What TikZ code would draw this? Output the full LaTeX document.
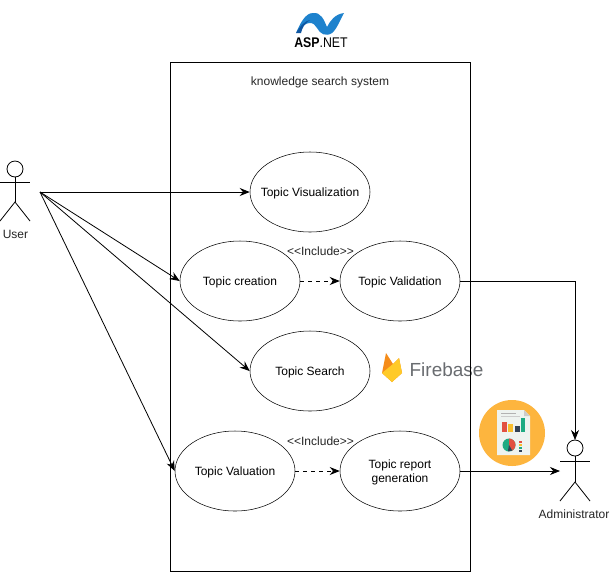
\documentclass[tikz,border=0pt]{standalone}
\usepackage{fontspec}
\setmainfont{Liberation Sans}
\usepackage{tikz}
\usetikzlibrary{arrows.meta,positioning,shapes.geometric}
\definecolor{aspblue}{RGB}{30,130,205}
\definecolor{aspdark}{RGB}{15,85,160}
\definecolor{fbgray}{RGB}{105,108,112}
\definecolor{fbyellow}{RGB}{255,202,40}
\definecolor{fborange}{RGB}{245,140,25}
\definecolor{iconorange}{RGB}{253,181,62}
\definecolor{iconpaper}{RGB}{238,243,240}
\definecolor{iconred}{RGB}{226,80,65}
\definecolor{iconyellow}{RGB}{247,190,45}
\definecolor{icondark}{RGB}{50,65,85}
\definecolor{iconteal}{RGB}{30,170,130}
\tikzset{
  usecase/.style={draw, ellipse, minimum width=90pt, minimum height=60pt, inner sep=-12pt,
    align=center, text depth=0pt, font=\fontsize{9}{10.5}\selectfont},
  label/.style={inner sep=0pt, text=black!85, font=\fontsize{9}{10.5}\selectfont},
  line/.style={-{Stealth[length=7.5pt,width=6pt]}, semithick},
  dashline/.style={line, dashed},
  actor/.style={semithick}
}
\begin{document}
\begin{tikzpicture}[x=0.75pt, y=-0.75pt]
  \useasboundingbox (0,0) rectangle (613,572);
  \fill[white] (0,0) rectangle (613,572);
  % logos
  \fill[aspblue] (296,33) .. controls (300,24) and (305,13) .. (313,13)
    .. controls (321,12) and (324,20) .. (327,27)
    .. controls (330,21) and (335,14) .. (344,13)
    .. controls (340,20) and (337,29) .. (332,33)
    .. controls (326,37) and (320,34) .. (317,28)
    .. controls (314,22) and (307,19) .. (296,33) -- cycle;
  \fill[aspdark] (296,33) .. controls (301,25) and (305,21) .. (310,20)
    .. controls (305,23) and (302,28) .. (301,33) -- cycle;
  \node[inner sep=0pt, xscale=0.88, font=\fontsize{10.5}{12}\selectfont] (aspText) at (321,43) {\textbf{ASP}.NET};
  \fill[fborange] (382,373) -- (386,353) -- (393,364) -- (399,358) -- (402,373) -- (392,382) -- cycle;
  \fill[fbyellow] (382,373) -- (393,364) -- (399,358) -- (402,373) -- (392,382) -- cycle;
  \node[inner sep=0pt, text=fbgray, font=\fontsize{14.2}{16}\selectfont] (firebaseText) at (446.5,369.5) {Firebase};
  \fill[iconorange] (512,433) circle[radius=33];
  \fill[iconpaper] (497,410) -- (524,410) -- (530,416) -- (530,455) -- (497,455) -- cycle;
  \fill[gray!40] (524,410) -- (530,416) -- (524,416) -- cycle;
  \draw[gray!60, line width=0.6pt] (501,413) -- (516,413);
  \draw[gray!40, line width=0.6pt] (501,416) -- (520,416);
  \fill[iconred] (502,422) rectangle (507,432);
  \fill[iconyellow] (508,424) rectangle (513,432);
  \fill[icondark] (515,426) rectangle (520,432);
  \fill[iconteal] (521,418) rectangle (525,432);
  \fill[iconteal] (509,445) circle[radius=6.5];
  \fill[iconred] (509,445) -- (509,438.5) arc[start angle=-90, end angle=60, radius=6.5] -- cycle;
  \fill[icondark] (509,445) -- (512.2,450.6) arc[start angle=60, end angle=100, radius=6.5] -- cycle;
  \foreach \y/\c in {441/iconred,444/iconyellow,447/iconteal,450/icondark}
    \fill[\c] (519,\y) rectangle (522,\y+1.5);
  % system
  \draw[semithick] (170,62) rectangle (470,571);
  \node[label] (systemTitle) at (320,82.5) {knowledge search system};
  \node[usecase] (visualization) at (310,192) {Topic Visualization};
  \node[usecase] (creation) at (240,281) {Topic creation};
  \node[usecase] (validation) at (400,281) {Topic Validation};
  \node[usecase] (search) at (310,371) {Topic Search};
  \node[usecase] (valuation) at (235,471) {Topic Valuation};
  \node[usecase] (report) at (400,471) {Topic report\\generation};
  \node[label] (includeA) at (320.5,251.5) {<{}<Include>{}>};
  \node[label] (includeB) at (320.5,441.5) {<{}<Include>{}>};
  % actors
  \coordinate (userFrom) at (40,192);
  \draw[actor] (15,169) circle[radius=8];
  \draw[actor] (0,182) -- (30,182);
  \draw[actor] (15,177) -- (15,202);
  \draw[actor] (0,221) -- (15,202) -- (30,221);
  \node[label] (userLabel) at (15.5,234.5) {User};
  \coordinate (adminTop) at (575,440);
  \coordinate (adminLeft) at (560,471);
  \draw[actor] (575,448) circle[radius=8];
  \draw[actor] (560,461) -- (590,461);
  \draw[actor] (575,456) -- (575,482);
  \draw[actor] (560,501) -- (575,482) -- (590,501);
  \node[label] (adminLabel) at (574,514.5) {Administrator};
  % connectors
  \draw[line] (userFrom) -- (visualization);
  \draw[line] (userFrom) -- (creation.west);
  \draw[line] (userFrom) -- (search.west);
  \draw[line] (userFrom) -- (valuation.west);
  \draw[dashline] (creation) -- (validation);
  \draw[dashline] (valuation) -- (report);
  \draw[line] (validation) -| (adminTop);
  \draw[line] (report) -- (adminLeft);
\end{tikzpicture}
\end{document}
